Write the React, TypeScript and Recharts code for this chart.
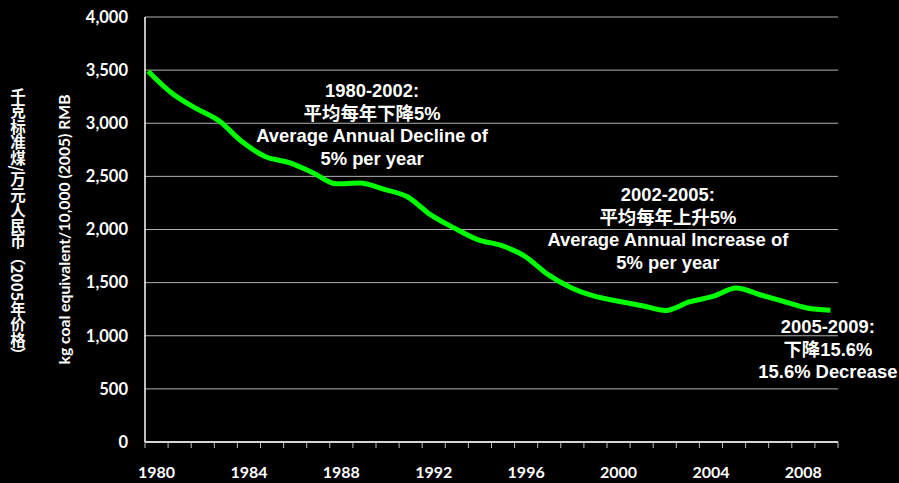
import React from 'react';
import { LineChart, Line, XAxis, YAxis, CartesianGrid, ReferenceDot } from 'recharts';

// Energy intensity of China's economy, 1980-2009
const years = [
  1980, 1981, 1982, 1983, 1984, 1985, 1986, 1987, 1988, 1989,
  1990, 1991, 1992, 1993, 1994, 1995, 1996, 1997, 1998, 1999,
  2000, 2001, 2002, 2003, 2004, 2005, 2006, 2007, 2008, 2009,
];
const intensity = [
  3490, 3285, 3145, 3025, 2825, 2685, 2630, 2535, 2430, 2437,
  2380, 2310, 2140, 2015, 1905, 1850, 1750, 1575, 1450, 1370,
  1325, 1283, 1238, 1318, 1370, 1450, 1386, 1323, 1261, 1240,
];
const yTicks = [0, 500, 1000, 1500, 2000, 2500, 3000, 3500, 4000];
const labelledYears = [1980, 1984, 1988, 1992, 1996, 2000, 2004, 2008];

const titleEn = 'kg coal equivalent/10,000 (2005) RMB';
const titleCn = '千克标准煤/万元人民币（2005年价格）';

const noteDecline = ['1980-2002:', '平均每年下降5%', 'Average Annual Decline of', '5% per year'];
const noteIncrease = ['2002-2005:', '平均每年上升5%', 'Average Annual Increase of', '5% per year'];
const noteRecent = ['2005-2009:', '下降15.6%', '15.6% Decrease'];

const data = years.map((year, i) => ({ year, value: intensity[i] }));

// category bands: a tick mark on every band edge, a label on every 4th band centre
const bandEdges = [...years.map((y) => y - 0.5), years[years.length - 1] + 0.5];
const frameTicks = [...bandEdges, ...labelledYears].sort((a, b) => a - b);

const tickFont = 'Lato, "Noto Sans", sans-serif';
const noteFont = '"Liberation Sans", Arial, "Noto Sans CJK SC", sans-serif';
const cjkFont = '"Noto Sans CJK SC", sans-serif';

const fmt = (v: number) => v.toLocaleString('en-US');

const FrameTick = (props: any) => {
  const { x, y, payload } = props;
  const v = payload.value as number;
  if (Number.isInteger(v)) {
    return (
      <text x={x} y={y + 30} dy="0.35em" textAnchor="middle" fill="#ffffff"
        fontFamily={tickFont} fontWeight={700} fontSize={16}>
        {v}
      </text>
    );
  }
  return <line x1={x} x2={x} y1={y} y2={y + 6} stroke="#bfbfbf" strokeWidth={1} />;
};

const AxisTitles = (props: any) => {
  const vb = props.viewBox || {};
  const cy = (vb.y ?? 0) + (vb.height ?? 0) / 2;
  const x0 = vb.x ?? 0;
  return (
    <g>
      {/* Chinese title set in vertical writing: Han characters upright, digits sideways */}
      <text x={x0 + 18} y={cy - 4} textAnchor="middle" fill="#ffffff"
        fontFamily={cjkFont} fontWeight={700} fontSize={15.5}
        style={{ writingMode: 'vertical-rl', textOrientation: 'mixed' } as any}>
        {titleCn}
      </text>
      <text x={x0 + 65} y={cy} textAnchor="middle" dy="0.35em" fill="#ffffff"
        fontFamily={tickFont} fontWeight={700} fontSize={15.7}
        transform={`rotate(-90 ${x0 + 65} ${cy})`}>
        {titleEn}
      </text>
    </g>
  );
};

const Note = (lines: string[]) => (props: any) => {
  const vb = props.viewBox || {};
  const cx = (vb.x ?? 0) + (vb.width ?? 0) / 2;
  const cy = (vb.y ?? 0) + (vb.height ?? 0) / 2;
  return (
    <g>
      {lines.map((t, i) => (
        <text key={i} x={cx} y={cy + i * 22.5} dy="0.35em" textAnchor="middle"
          fill="#ffffff" fontFamily={noteFont} fontWeight={700} fontSize={18.4}>
          {t}
        </text>
      ))}
    </g>
  );
};

export default function App() {
  return (
    <div style={{ position: 'absolute', left: 0, top: 0, width: 899, height: 483, background: '#000000' }}>
      <LineChart width={899} height={483} data={data}
        margin={{ top: 17, right: 61, bottom: 0, left: 0 }}>
        <CartesianGrid horizontal vertical={false} stroke="#b0b0b0" strokeWidth={1}
          xAxisId="frame" />
        <XAxis xAxisId="frame" type="number" dataKey="year" domain={[1979.5, 2009.5]}
          ticks={frameTicks} interval={0} tick={<FrameTick />} tickLine={false}
          tickSize={0} tickMargin={0} height={41} allowDataOverflow
          axisLine={{ stroke: '#ffffff', strokeWidth: 1.5 }} />
        <XAxis xAxisId="line" type="number" dataKey="year" domain={[1979.87, 2009.32]}
          hide allowDataOverflow />
        <YAxis type="number" domain={[0, 4000]} ticks={yTicks} interval={0} width={145}
          tickFormatter={fmt} tickLine={false} tickSize={0} tickMargin={17}
          axisLine={{ stroke: '#ffffff', strokeWidth: 1.5 }}
          tick={{ fill: '#ffffff', fontFamily: tickFont, fontWeight: 700, fontSize: 16.5 }}
          label={<AxisTitles />} />
        <Line xAxisId="line" type="monotone" dataKey="value" stroke="#00ff00"
          strokeWidth={5} dot={false} activeDot={false} isAnimationActive={false} />
        <ReferenceDot xAxisId="line" x={1989.52} y={3303} r={0} stroke="none"
          label={Note(noteDecline)} />
        <ReferenceDot xAxisId="line" x={2002.09} y={2325} r={0} stroke="none"
          label={Note(noteIncrease)} />
        <ReferenceDot xAxisId="line" x={2008.89} y={1082} r={0} stroke="none"
          label={Note(noteRecent)} />
      </LineChart>
    </div>
  );
}
